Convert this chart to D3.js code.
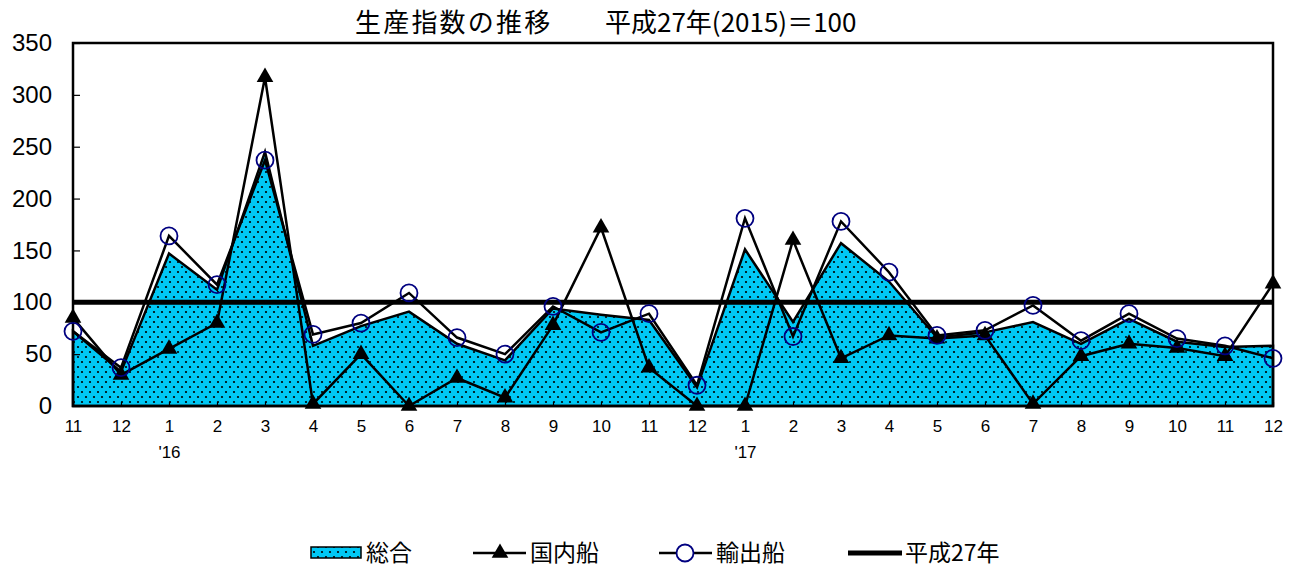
<!DOCTYPE html>
<html><head><meta charset="utf-8">
<script src="https://cdn.jsdelivr.net/npm/d3@7/dist/d3.min.js"></script>
<style>body{margin:0;background:#fff}svg{display:block}</style>
</head><body><svg id="c" width="1296" height="567"></svg>
<script>
const months = ["11","12","1","2","3","4","5","6","7","8","9","10","11","12","1","2","3","4","5","6","7","8","9","10","11","12"];
const yearLabels = {2:"'16", 14:"'17"};
const sogo   = [72,33,147,112,245,58,77,91,60,44,94,88,83,18,151,81,157,120,66,71,81,60,84,62,57,58];
const kokunai= [85,30,55,80,317,2,50,0,27,8,78,172,37,0,0,160,46,68,65,68,2,48,60,56,48,118];
const yushutsu=[72,37,164,117,237,69,80,109,66,50,96,71,89,20,181,67,178,129,68,73,97,63,89,65,58,46];
const base = 100;
const yTicks = [0,50,100,150,200,250,300,350];
const titleParts = ["生産指数の推移", "平成27年(2015)＝100"];
const legendNames = ["総合","国内船","輸出船","平成27年"];

const svg = d3.select("#c");
const L=73,R=1273,T=43,B=406;
const x = d3.scalePoint().domain(d3.range(months.length)).range([L,R]);
const y = d3.scaleLinear().domain([0,350]).range([B,T]);
const jp = "'Noto Sans CJK JP', sans-serif";
const num = "'Liberation Sans', Arial, sans-serif";

const defs = svg.append("defs");
const pat = defs.append("pattern").attr("id","dots").attr("patternUnits","userSpaceOnUse").attr("width",8).attr("height",10);
pat.append("rect").attr("width",8).attr("height",10).attr("fill","#00c8f5");
pat.append("circle").attr("cx",2).attr("cy",2).attr("r",1.1).attr("fill","#000");
pat.append("circle").attr("cx",6).attr("cy",7).attr("r",1.1).attr("fill","#000");

// area
const area = d3.area().x((d,i)=>x(i)).y0(y(0)).y1(d=>y(d));
svg.append("path").datum(sogo).attr("d",area).attr("fill","url(#dots)").attr("stroke","#000").attr("stroke-width",2.5).attr("stroke-linejoin","miter");

// frame
svg.append("rect").attr("x",L).attr("y",T).attr("width",R-L).attr("height",B-T).attr("fill","none").attr("stroke","#000").attr("stroke-width",2.5);

// axes
const yAxis = d3.axisLeft(y).tickValues(yTicks).tickSize(-7).tickPadding(21);
const gy = svg.append("g").attr("transform",`translate(${L},0)`).call(yAxis);
gy.select(".domain").remove();
gy.selectAll("line").attr("stroke","#000").attr("stroke-width",1.2);
gy.selectAll("text").attr("font-family",num).attr("font-size",24).attr("fill","#000");

const xAxis = d3.axisBottom(x).tickFormat(i=>months[i]).tickSize(-4).tickPadding(14);
const gx = svg.append("g").attr("transform",`translate(0,${B})`).call(xAxis);
gx.select(".domain").remove();
gx.selectAll("line").attr("stroke","#000").attr("stroke-width",1.2);
gx.selectAll("text").attr("font-family",num).attr("font-size",17).attr("fill","#000");
gx.selectAll(".tick").filter(i=>yearLabels[i]).append("text")
  .attr("y",52).attr("text-anchor","middle").attr("font-family",num).attr("font-size",17).attr("fill","#000")
  .text(i=>yearLabels[i]);

const line = d3.line().x((d,i)=>x(i)).y(d=>y(d));
// base line
svg.append("line").attr("x1",L).attr("x2",R).attr("y1",y(base)).attr("y2",y(base)).attr("stroke","#000").attr("stroke-width",5);

const tri = d3.symbol().type(d3.symbolTriangle).size(120);
// kokunai
svg.append("path").datum(kokunai).attr("d",line).attr("fill","none").attr("stroke","#000").attr("stroke-width",2.5);
svg.selectAll(".tri").data(kokunai).join("path").attr("class","tri")
  .attr("d",tri).attr("transform",(d,i)=>`translate(${x(i)},${y(d)})`).attr("fill","#000");
// yushutsu
svg.append("path").datum(yushutsu).attr("d",line).attr("fill","none").attr("stroke","#000").attr("stroke-width",2.5);
svg.selectAll(".cir").data(yushutsu).join("circle").attr("class","cir")
  .attr("cx",(d,i)=>x(i)).attr("cy",d=>y(d)).attr("r",8.5).attr("fill","none").attr("stroke","#000080").attr("stroke-width",1.8);

// title
const tg = svg.append("g").attr("font-family",jp).attr("font-size",26).attr("fill","#000");
tg.append("text").attr("x",355).attr("y",32).attr("letter-spacing",2.2).text(titleParts[0]);
tg.append("text").attr("x",605).attr("y",32).text(titleParts[1]);

// legend
const ly = 553;
const lg = svg.append("g").attr("font-family",jp).attr("font-size",23).attr("fill","#000");
lg.append("rect").attr("x",311).attr("y",ly-6).attr("width",50).attr("height",11).attr("fill","url(#dots)").attr("stroke","#000").attr("stroke-width",1.5);
lg.append("text").attr("x",366).attr("y",ly+8).text(legendNames[0]);
lg.append("line").attr("x1",473).attr("x2",526).attr("y1",ly).attr("y2",ly).attr("stroke","#000").attr("stroke-width",2.5);
lg.append("path").attr("d",tri).attr("transform",`translate(500,${ly})`).attr("fill","#000");
lg.append("text").attr("x",530).attr("y",ly+8).text(legendNames[1]);
lg.append("line").attr("x1",659).attr("x2",712).attr("y1",ly).attr("y2",ly).attr("stroke","#000").attr("stroke-width",2.5);
lg.append("circle").attr("cx",685).attr("cy",ly).attr("r",8.5).attr("fill","#fff").attr("stroke","#000080").attr("stroke-width",1.8);
lg.append("text").attr("x",716).attr("y",ly+8).text(legendNames[2]);
lg.append("line").attr("x1",848).attr("x2",902).attr("y1",ly).attr("y2",ly).attr("stroke","#000").attr("stroke-width",5);
lg.append("text").attr("x",905).attr("y",ly+8).text(legendNames[3]);
</script></body></html>
